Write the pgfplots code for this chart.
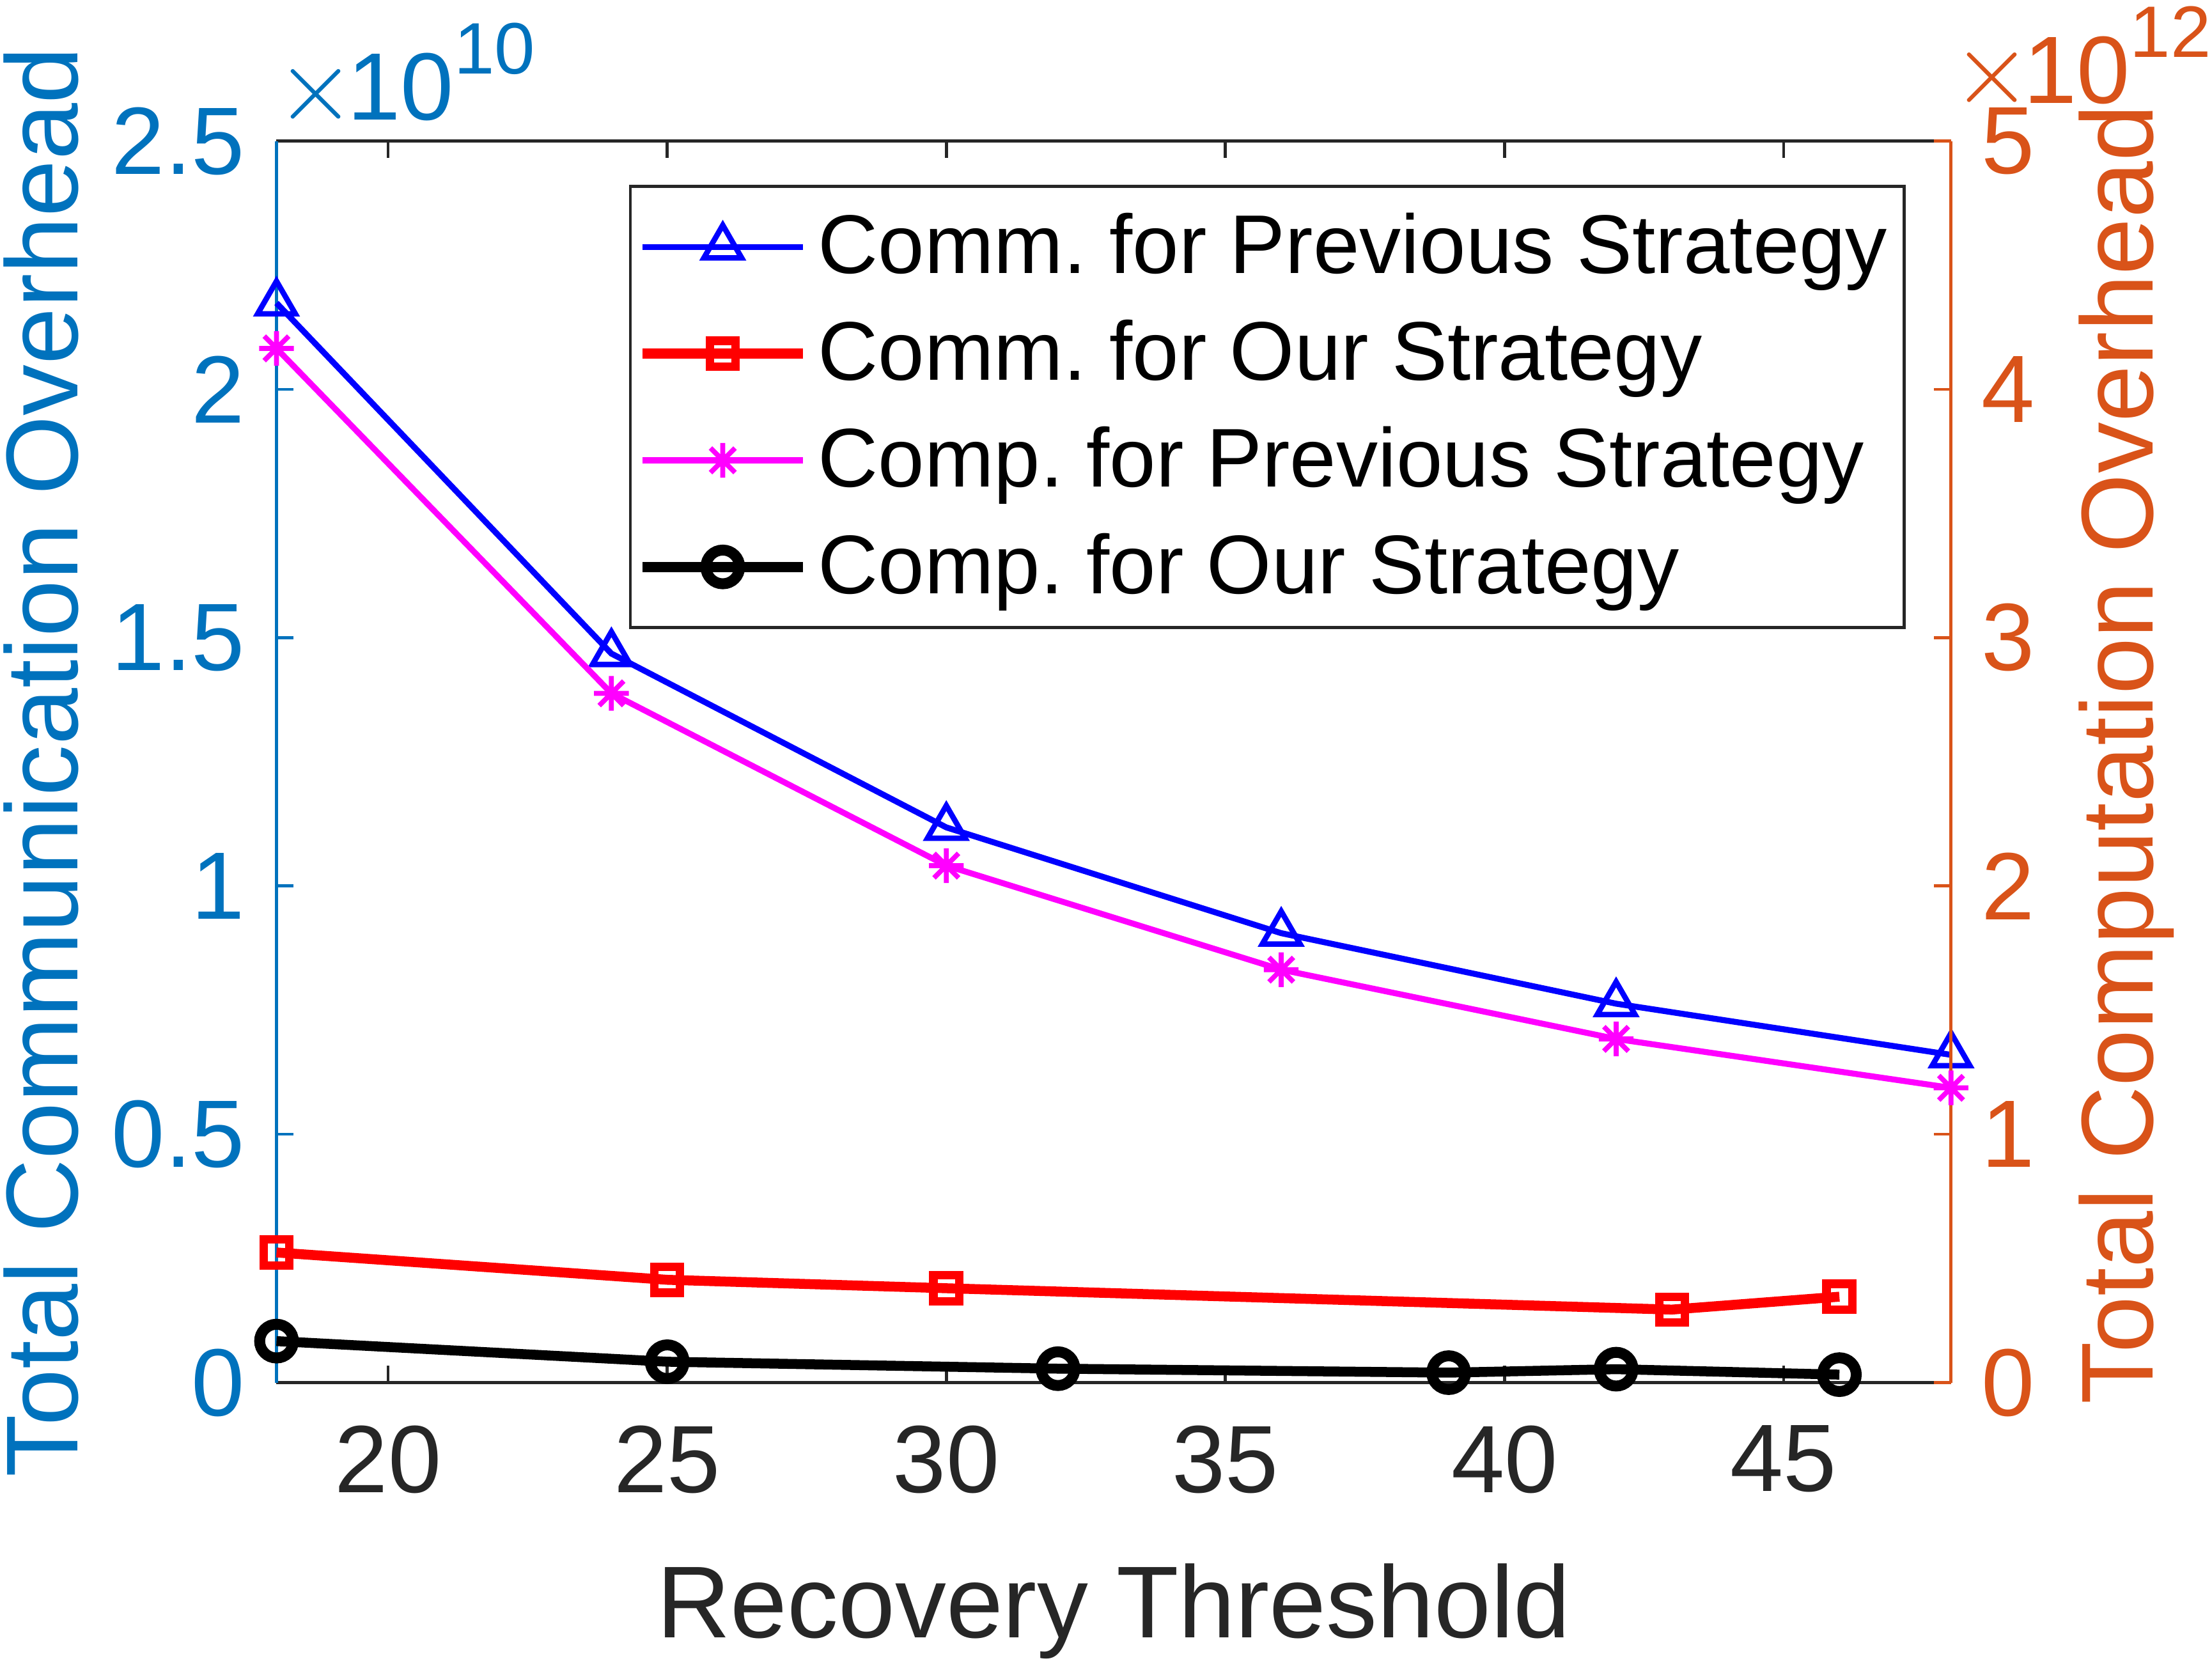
\documentclass[border=0pt]{standalone}
\usepackage{fontspec}
\setmainfont{Liberation Sans}
\usepackage{pgfplots}
\pgfplotsset{compat=1.18}
\frenchspacing

\definecolor{mblue}{rgb}{0,0.447,0.741}
\definecolor{morange}{rgb}{0.85,0.325,0.098}
\definecolor{mgray}{rgb}{0.15,0.15,0.15}
\definecolor{mmag}{rgb}{1,0,1}

\newcommand{\tickfont}{\fontsize{19.3pt}{23pt}\selectfont}
\newcommand{\labfont}{\fontsize{20.6pt}{25pt}\selectfont}
\newcommand{\legfont}{\fontsize{16.8pt}{20pt}\selectfont}
\newcommand{\expo}[1]{$\times$\kern-1.7pt10\raisebox{0.48em}{\fontsize{14.7pt}{16pt}\selectfont #1}}

% matlab style '*' marker: plus and cross
\pgfdeclareplotmark{mstar}{%
  \pgfpathmoveto{\pgfqpoint{0pt}{\pgfplotmarksize}}\pgfpathlineto{\pgfqpoint{0pt}{-\pgfplotmarksize}}%
  \pgfpathmoveto{\pgfqpoint{\pgfplotmarksize}{0pt}}\pgfpathlineto{\pgfqpoint{-\pgfplotmarksize}{0pt}}%
  \pgfpathmoveto{\pgfqpoint{0.707\pgfplotmarksize}{0.707\pgfplotmarksize}}\pgfpathlineto{\pgfqpoint{-0.707\pgfplotmarksize}{-0.707\pgfplotmarksize}}%
  \pgfpathmoveto{\pgfqpoint{-0.707\pgfplotmarksize}{0.707\pgfplotmarksize}}\pgfpathlineto{\pgfqpoint{0.707\pgfplotmarksize}{-0.707\pgfplotmarksize}}%
  \pgfusepathqstroke}

\pgfplotsset{
  base/.style={
    at={(0,0)}, anchor=south west, scale only axis,
    width=11.87cm, height=8.8cm,
    xmin=18, xmax=48, clip=false,
    tick align=inside, major tick length=0.12cm,
    tick label style={font=\tickfont},
    /pgf/number format/assume math mode=true,
    every tick/.append style={line width=0.6pt},
  },
  sblue/.style={blue, line width=1.2pt, mark=triangle, mark size=4.4pt, mark options={solid, line width=1.1pt}},
  sred/.style={red, line width=2pt, mark=square, mark size=2.6pt, mark options={solid, line width=1.7pt}},
  smag/.style={mmag, line width=1.2pt, mark=mstar, mark size=3.5pt, mark options={solid, line width=1pt}},
  sblack/.style={black, line width=2pt, mark=o, mark size=3.4pt, mark options={solid, line width=2.2pt}},
}

\begin{document}
\begin{tikzpicture}
\useasboundingbox (-1.96cm,-1.97cm) rectangle (13.72cm,9.80cm);

% left axis: communication overhead (x 10^10)
\begin{axis}[base,
  axis x line*=box, axis y line*=left,
  x axis line style={mgray, line width=0.6pt},
  y axis line style={mblue, line width=0.6pt},
  xtick={20,25,...,45},
  x tick style={mgray},
  x tick label style={mgray, yshift=-0.18cm},
  ymin=0, ymax=2.5,
  ytick={0,0.5,1,1.5,2,2.5},
  yticklabels={0,0.5,1,1.5,2,2.5},
  y tick style={mblue},
  y tick label style={mblue, xshift=-0.1cm},
  xlabel={Recovery Threshold},
  every axis x label/.style={mgray, font=\labfont, at={(axis description cs:0.5,0)}, anchor=base, yshift=-1.81cm},
  ylabel={Total Communication Overhead},
  every axis y label/.style={mblue, font=\labfont, at={(axis description cs:-0.1188,0.5)}, anchor=base, rotate=90},
]
\addplot[sblue] coordinates {
(18,2.174) (24,1.468) (30,1.118) (36,0.905) (42,0.763) (48,0.660)
};
\addplot[sred] coordinates {
(18,0.262) (25,0.207) (30,0.190) (43,0.147) (46,0.173)
};
\end{axis}

% right axis: computation overhead (x 10^12)
\begin{axis}[base,
  axis x line=none, axis y line*=right,
  y axis line style={morange, line width=0.6pt},
  ymin=0, ymax=5,
  ytick={0,1,2,3,4,5},
  y tick style={morange},
  y tick label style={morange, xshift=0.09cm},
  ylabel={Total Computation Overhead},
  every axis y label/.style={morange, font=\labfont, at={(axis description cs:1.1205,0.506)}, anchor=base, rotate=90},
  legend style={at={(axis description cs:0.973,0.9648)}, anchor=north east,
    draw=mgray, line width=0.6pt, font=\legfont, text=black,
    inner xsep=0.05cm, inner ysep=0.12cm, row sep=0.135cm},
  legend cell align=left,
  legend image code/.code={
    \draw[mark repeat=2, mark phase=2, #1] plot coordinates {(0cm,0cm) (0.57cm,0cm) (1.14cm,0cm)};
  },
]
\addlegendimage{sblue}
\addlegendentry{Comm. for Previous Strategy}
\addlegendimage{sred}
\addlegendentry{Comm. for Our Strategy}
\addplot[smag] coordinates {
(18,4.165) (24,2.776) (30,2.082) (36,1.663) (42,1.384) (48,1.187)
};
\addlegendentry{Comp. for Previous Strategy}
\addplot[sblack] coordinates {
(18,0.167) (25,0.084) (32,0.056) (39,0.040) (42,0.054) (46,0.032)
};
\addlegendentry{Comp. for Our Strategy}
\end{axis}

\node[mblue, font=\tickfont, anchor=base west, inner sep=0pt] at (-0.01cm,8.95cm) {\expo{10}};
\node[morange, font=\tickfont, anchor=base west, inner sep=0pt] at (11.87cm,9.07cm) {\expo{12}};
\end{tikzpicture}
\end{document}
